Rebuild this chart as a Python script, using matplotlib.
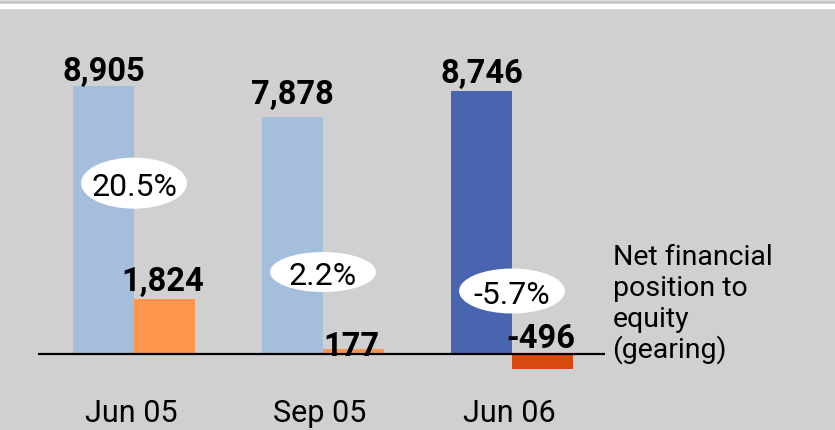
import matplotlib
matplotlib.use("Agg")
import matplotlib.pyplot as plt
from matplotlib.patches import Ellipse, Rectangle

plt.rcParams["font.family"] = ["Roboto", "DejaVu Sans"]

# data
periods = ["Jun 05", "Sep 05", "Jun 06"]
equity = [8905, 7878, 8746]
net_financial = [1824, 177, -496]
gearing = ["20.5%", "2.2%", "-5.7%"]
side_label = ["Net financial", "position to", "equity", "(gearing)"]

# styles
bg = "#d0d0d0"
equity_colors = ["#a5bedb", "#a5bedb", "#4a65b0"]
nfp_colors = ["#ff944d", "#ff944d", "#d8480f"]
# label offsets in pixels (baseline above bar top / zero)
equity_dy = [6, 14, 9]
nfp_dy = [9, -6, 7]
# ellipse placement (y in data units) and size
ell_y = [5680, 2725, 2095]
ell_h = [1695, 1330, 1495]
ell_w = 0.56

fig = plt.figure(figsize=(8.35, 4.31), dpi=100)
fig.patch.set_facecolor(bg)
ax = fig.add_axes([0, 0, 1, 1])
ax.set_facecolor(bg)
ax.axis("off")
ax.set_xlim(-0.709, 3.709)
ax.set_ylim(-2525, 11800)

# top band
H = 431
fig.patches.append(Rectangle((0, 1 - 1.7 / H), 1, 1.7 / H, transform=fig.transFigure,
                             color="#e2e2e2", zorder=0))
fig.patches.append(Rectangle((0, 1 - 5 / H), 1, 3.3 / H, transform=fig.transFigure,
                             color="#c6c6c6", zorder=0))
fig.patches.append(Rectangle((0, 1 - 9 / H), 1, 4 / H, transform=fig.transFigure,
                             color="white", zorder=0))

w = 61 / 189
x = list(range(len(periods)))
ax.bar([i - w / 2 for i in x], equity, width=w, color=equity_colors, zorder=2)
ax.bar([i + w / 2 for i in x], net_financial, width=w, color=nfp_colors, zorder=2)

ax.hlines(0, -0.508, 2.49, color="black", lw=1.6, zorder=3)

for i in x:
    ax.annotate(f"{equity[i]:,}", (i - w / 2, equity[i]), xytext=(0, equity_dy[i]),
                textcoords="offset pixels", ha="center", va="baseline",
                fontsize=23.5, fontweight="bold", zorder=5)
    ax.annotate(f"{net_financial[i]:,}", (i + w / 2, max(net_financial[i], 0)),
                xytext=(-2, nfp_dy[i]), textcoords="offset pixels", ha="center",
                va="baseline", fontsize=23.5, fontweight="bold", zorder=5)
    ax.add_patch(Ellipse((i, ell_y[i]), ell_w, ell_h[i], facecolor="white",
                         edgecolor="none", zorder=4))
    ax.annotate(gearing[i], (i, ell_y[i]), xytext=(0, -12), textcoords="offset pixels",
                ha="center", va="baseline", fontsize=23, zorder=6)
    ax.annotate(periods[i], (i, 0), xytext=(-3, -67), textcoords="offset pixels",
                ha="center", va="baseline", fontsize=22, zorder=5)

for k, line in enumerate(side_label):
    ax.annotate(line, (2.49, 0), xytext=(8, 90 - 31 * k), textcoords="offset pixels",
                ha="left", va="baseline", fontsize=20.5, zorder=5)

fig.savefig("out.png", dpi=100, facecolor=bg)
